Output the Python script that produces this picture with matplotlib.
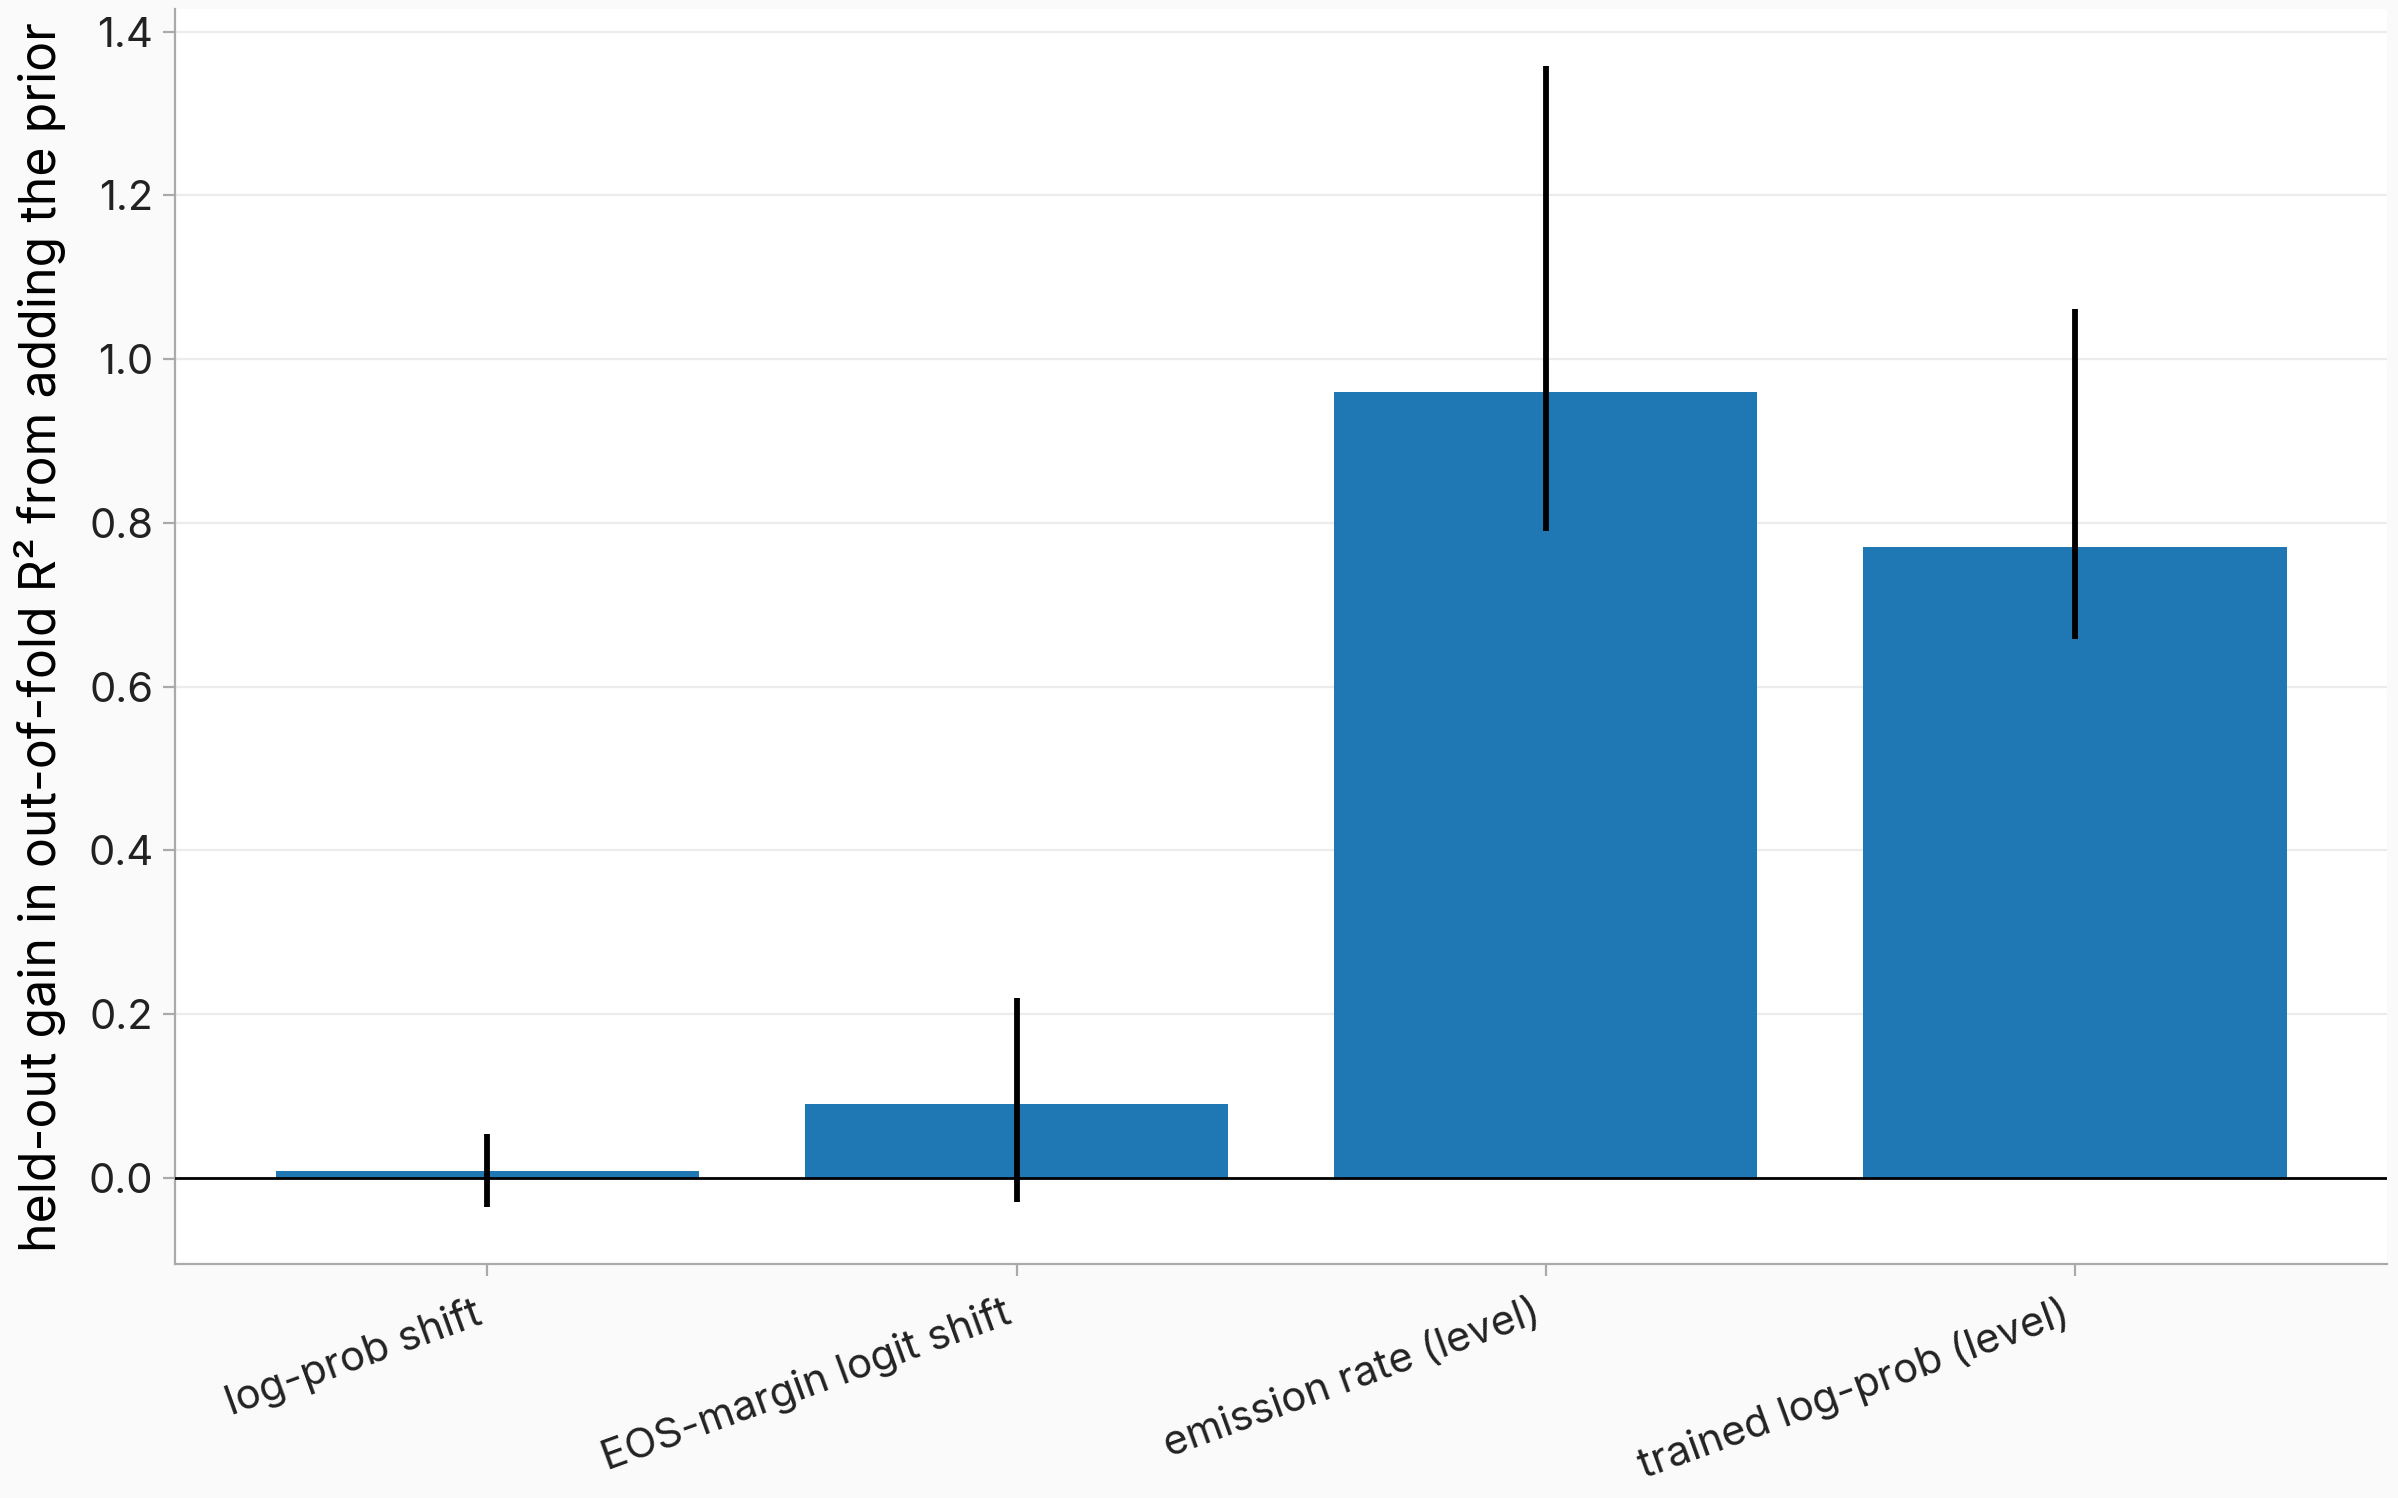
import numpy as np
import matplotlib.pyplot as plt

# Data
labels = ["log-prob shift", "EOS-margin logit shift",
          "emission rate (level)", "trained log-prob (level)"]
gain = [0.008, 0.09, 0.96, 0.77]
ci_low = [-0.036, -0.030, 0.790, 0.658]
ci_high = [0.054, 0.219, 1.358, 1.061]

plt.rcParams['font.family'] = ['Inter', 'DejaVu Sans']

x = np.arange(len(labels))
yerr = np.array([np.array(gain) - np.array(ci_low),
                 np.array(ci_high) - np.array(gain)])

fig = plt.figure(figsize=(11.99, 7.49), dpi=200, facecolor="#fafafa")
ax = fig.add_axes([0.073, 0.156, 0.9225, 0.838])
ax.set_facecolor("white")

ax.bar(x, gain, width=0.8, color="#1f77b4", zorder=2)
ax.errorbar(x, gain, yerr=yerr, fmt="none", ecolor="black",
            elinewidth=2.1, capsize=0, zorder=3)
ax.axhline(0, color="black", lw=1.0, zorder=4)

ax.set_xticks(x)
ax.set_xticklabels(labels, rotation=20, ha="right", fontsize=15, color="#222222")
ax.tick_params(axis="y", labelsize=15, labelcolor="#222222")
ax.tick_params(axis="both", color="#aaaaaa", length=4.3, width=0.8)
ax.tick_params(axis="x", pad=6)
ax.set_ylabel("held-out gain in out-of-fold R² from adding the prior",
              fontsize=18, color="black", labelpad=8)

ax.grid(axis="y", color="#ececec", lw=0.8, zorder=0)
ax.set_axisbelow(True)
for s in ["top", "right"]:
    ax.spines[s].set_visible(False)
for s in ["left", "bottom"]:
    ax.spines[s].set_color("#aaaaaa")
    ax.spines[s].set_linewidth(0.8)

fig.savefig("out.png", dpi=200, facecolor=fig.get_facecolor())
